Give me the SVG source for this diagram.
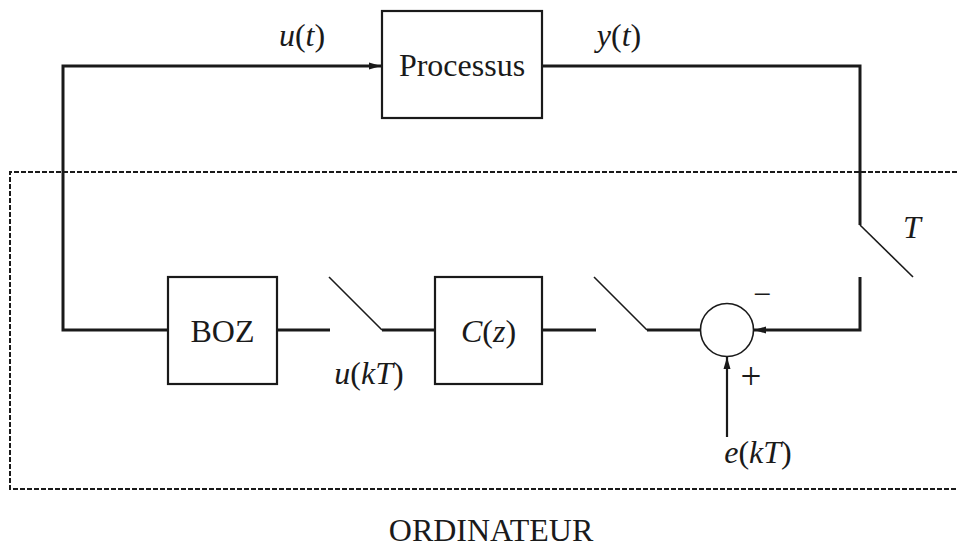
<svg xmlns="http://www.w3.org/2000/svg" width="957" height="550" viewBox="0 0 957 550">
  <style>
    .box { fill: #fff; stroke: #1a1a1a; stroke-width: 2.2; }
    .wire { fill: none; stroke: #1a1a1a; stroke-width: 3; }
    .thin { fill: none; stroke: #1a1a1a; stroke-width: 1.6; }
    .frame { fill: none; stroke: #1a1a1a; stroke-width: 2; stroke-dasharray: 5 2; }
    .t { font-family: "Liberation Serif", "Times New Roman", serif; font-size: 32px; fill: #1a1a1a; }
    .m { font-style: italic; }
  </style>
  <defs>
    <marker id="arr" viewBox="0 0 12 10" refX="12" refY="5" markerWidth="12" markerHeight="10" markerUnits="userSpaceOnUse" orient="auto">
      <path d="M0,1.5 L12,5 L0,8.5 Z" fill="#1a1a1a"/>
    </marker>
  </defs>

  <!-- computer boundary, open on the right -->
  <path class="frame" d="M957,172 H10 V489 H957"/>
  <text class="t" x="491" y="541" text-anchor="middle">ORDINATEUR</text>

  <g id="connectors">
    <!-- hold output to plant input -->
    <path class="wire" d="M168,330 H63 V66 H381" marker-end="url(#arr)"/>
    <!-- plant output to sampler T -->
    <path class="wire" d="M542,66 H860 V225"/>
    <path class="thin" d="M860,225 L913,277"/>
    <path class="wire" d="M860,277 V330 H754" marker-end="url(#arr)"/>
    <!-- reference input -->
    <path class="thin" d="M727,437 V357" style="stroke-width:2.2" marker-end="url(#arr)"/>
    <!-- error sampler -->
    <path class="wire" d="M700,330 H647"/>
    <path class="thin" d="M647,330 L594,277"/>
    <path class="wire" d="M596,330 H542"/>
    <!-- controller output sampler -->
    <path class="wire" d="M435,330 H382"/>
    <path class="thin" d="M382,330 L329,277"/>
    <path class="wire" d="M330,330 H277"/>
  </g>

  <g id="processus">
    <rect class="box" x="382" y="11" width="160" height="107"/>
    <text class="t" x="462" y="76" text-anchor="middle">Processus</text>
  </g>
  <g id="boz">
    <rect class="box" x="168" y="277" width="109" height="107"/>
    <text class="t" x="222.5" y="342" text-anchor="middle">BOZ</text>
  </g>
  <g id="controller">
    <rect class="box" x="435" y="277" width="107" height="107"/>
    <text class="t" x="488.5" y="342" text-anchor="middle"><tspan class="m">C</tspan>(<tspan class="m">z</tspan>)</text>
  </g>
  <g id="sum">
    <circle cx="727" cy="330" r="26.5" fill="#fff" stroke="#1a1a1a" stroke-width="1.6"/>
    <text class="t" x="762" y="305" text-anchor="middle">−</text>
    <text class="t" x="751" y="389" text-anchor="middle" style="font-size:37px">+</text>
  </g>

  <g id="labels">
    <text class="t" x="302" y="46" text-anchor="middle"><tspan class="m">u</tspan>(<tspan class="m">t</tspan>)</text>
    <text class="t" x="619" y="46" text-anchor="middle"><tspan class="m">y</tspan>(<tspan class="m">t</tspan>)</text>
    <text class="t m" x="912" y="238" text-anchor="middle">T</text>
    <text class="t" x="369" y="384" text-anchor="middle"><tspan class="m">u</tspan>(<tspan class="m">kT</tspan>)</text>
    <text class="t" x="758" y="463" text-anchor="middle"><tspan class="m">e</tspan>(<tspan class="m">kT</tspan>)</text>
  </g>
</svg>
